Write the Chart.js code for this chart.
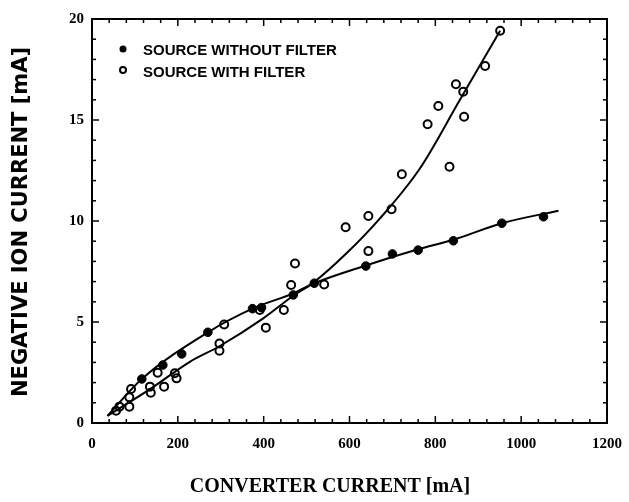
<!DOCTYPE html>
<html><head><meta charset="utf-8">
<script src="https://cdn.jsdelivr.net/npm/chart.js@4.4.0/dist/chart.umd.min.js"></script>
<style>html,body{margin:0;padding:0;background:#fff}#wrap{width:629px;height:502px}</style>
</head><body>
<div id="wrap"><canvas id="c" width="629" height="502"></canvas></div>
<script>
// ---- data ----
const seriesNames = ['SOURCE WITHOUT FILTER', 'SOURCE WITH FILTER'];
const xTitle = 'CONVERTER CURRENT [mA]';
const yTitle = 'NEGATIVE ION CURRENT [mA]';
const xTickValues = [0, 200, 400, 600, 800, 1000, 1200];
const yTickValues = [0, 5, 10, 15, 20];

const withoutFilterX = [116, 165, 209, 270, 374, 395, 469, 518, 638, 700, 760, 842, 955, 1052];
const withoutFilterY = [2.18, 2.87, 3.42, 4.49, 5.66, 5.71, 6.34, 6.92, 7.77, 8.37, 8.56, 9.02, 9.89, 10.21];

const withFilterX = [56, 64, 87, 87, 91, 135, 137, 153, 168, 193, 197, 297, 297, 308, 391, 405, 447, 464, 473, 541, 591, 644, 644, 698, 722, 782, 807, 833, 848, 867, 865, 916, 951];
const withFilterY = [0.61, 0.81, 0.81, 1.27, 1.68, 1.8, 1.5, 2.49, 1.8, 2.46, 2.21, 3.94, 3.58, 4.88, 5.59, 4.72, 5.59, 6.83, 7.9, 6.86, 9.69, 10.25, 8.51, 10.58, 12.31, 14.79, 15.69, 12.69, 16.77, 15.16, 16.4, 17.67, 19.42];

// fitted curves
const fitWithoutX = [36, 116, 270, 374, 469, 518, 638, 760, 842, 955, 1087];
const fitWithoutY = [0.35, 2.18, 4.49, 5.66, 6.42, 6.92, 7.8, 8.6, 9.07, 9.89, 10.51];
const fitWithX = [36, 137, 228, 297, 399, 469, 516, 593, 671, 764, 857, 951];
const fitWithY = [0.35, 1.7, 3.03, 3.8, 5.18, 6.3, 6.95, 8.4, 10.13, 12.6, 15.99, 19.42];

const pts = (xs, ys) => xs.map((v, i) => ({x: v, y: ys[i]}));

const decor = {
  id: 'decor',
  afterDatasetsDraw(chart) {
    const {ctx, chartArea: a, scales: {x, y}} = chart;
    ctx.save();
    ctx.strokeStyle = '#000';
    const seg = (x1, y1, x2, y2) => { ctx.beginPath(); ctx.moveTo(x1, y1); ctx.lineTo(x2, y2); ctx.stroke(); };
    ctx.lineWidth = 1.5;
    for (let v = 0; v <= 1200; v += 40) {
      const p = x.getPixelForValue(v);
      const L = v % 200 === 0 ? 7 : 4;
      seg(p, a.bottom, p, a.bottom - L);
      seg(p, a.top, p, a.top + L);
    }
    for (let v = 0; v <= 20; v += 1) {
      const p = y.getPixelForValue(v);
      const L = v % 5 === 0 ? 7 : 4;
      seg(a.left, p, a.left + L, p);
      seg(a.right, p, a.right - L, p);
    }
    ctx.lineWidth = 2;
    ctx.strokeRect(a.left, a.top, a.right - a.left, a.bottom - a.top);

    // legend inside plot
    ctx.fillStyle = '#000';
    ctx.beginPath(); ctx.arc(a.left + 31, a.top + 30, 3.5, 0, Math.PI * 2); ctx.fill();
    ctx.lineWidth = 2;
    ctx.beginPath(); ctx.arc(a.left + 31, a.top + 51, 3, 0, Math.PI * 2); ctx.stroke();
    ctx.font = 'bold 15px "Liberation Sans"';
    ctx.textBaseline = 'middle';
    ctx.textAlign = 'left';
    ctx.fillText(chart.data.datasets[0].label, a.left + 51, a.top + 32);
    ctx.fillText(chart.data.datasets[1].label, a.left + 51, a.top + 54);

    // axis titles
    ctx.font = 'bold 20px "Liberation Serif"';
    ctx.textAlign = 'center';
    ctx.fillText(xTitle, 330, 487);
    ctx.save();
    ctx.translate(22, (a.top + a.bottom) / 2 + 1);
    ctx.rotate(-Math.PI / 2);
    ctx.font = 'bold 21px "DejaVu Sans"';
    ctx.fillText(yTitle, 0, 0);
    ctx.restore();
    ctx.restore();
  }
};

new Chart(document.getElementById('c'), {
  type: 'scatter',
  data: {
    datasets: [
      {label: seriesNames[0], data: pts(withoutFilterX, withoutFilterY), pointRadius: 4.3, pointBackgroundColor: '#000', pointBorderColor: '#000', pointBorderWidth: 1, showLine: false, order: 1},
      {label: seriesNames[1], data: pts(withFilterX, withFilterY), pointRadius: 4, pointBackgroundColor: 'rgba(255,255,255,0)', pointBorderColor: '#000', pointBorderWidth: 2, showLine: false, order: 1},
      {label: 'fit1', data: pts(fitWithoutX, fitWithoutY), showLine: true, pointRadius: 0, borderColor: '#000', borderWidth: 2, cubicInterpolationMode: 'monotone', order: 2},
      {label: 'fit2', data: pts(fitWithX, fitWithY), showLine: true, pointRadius: 0, borderColor: '#000', borderWidth: 2, cubicInterpolationMode: 'monotone', order: 2}
    ]
  },
  options: {
    responsive: false,
    animation: false,
    events: [],
    layout: {padding: {top: 19, right: 22, left: 0, bottom: 0}},
    plugins: {legend: {display: false}, tooltip: {enabled: false}},
    scales: {
      x: {
        type: 'linear', min: 0, max: 1200,
        afterBuildTicks: s => { s.ticks = xTickValues.map(v => ({value: v})); },
        afterFit: s => { s.height = 79; s.paddingLeft = 0; s.paddingRight = 0; },
        grid: {display: false, drawTicks: false},
        border: {display: false},
        ticks: {padding: 12, color: '#000', font: {family: 'Liberation Serif', size: 15, weight: 'bold'}, maxRotation: 0, callback: v => String(v)}
      },
      y: {
        type: 'linear', min: 0, max: 20,
        afterBuildTicks: s => { s.ticks = yTickValues.map(v => ({value: v})); },
        afterFit: s => { s.width = 92; s.paddingTop = 0; s.paddingBottom = 0; },
        grid: {display: false, drawTicks: false},
        border: {display: false},
        ticks: {padding: 8, color: '#000', font: {family: 'Liberation Serif', size: 15, weight: 'bold'}, callback: v => String(v)}
      }
    }
  },
  plugins: [decor]
});
</script>
</body></html>
